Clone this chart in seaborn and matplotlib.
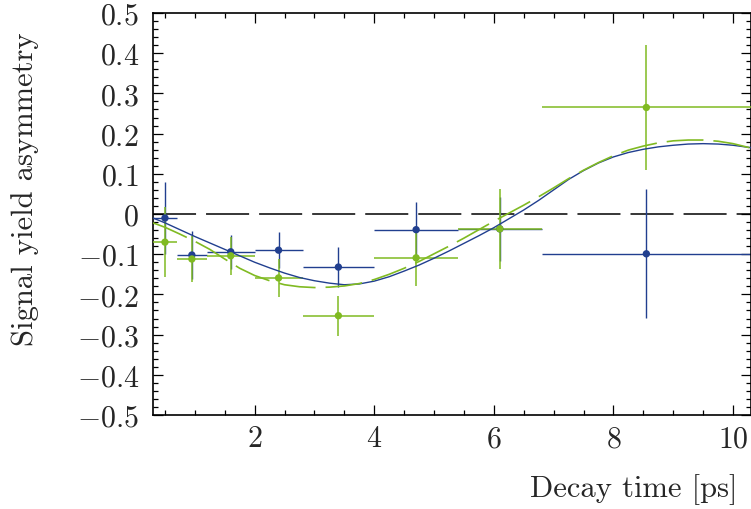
import numpy as np
import pandas as pd
import matplotlib
matplotlib.use("Agg")
import matplotlib.pyplot as plt
import seaborn as sns

# ---------------- data ----------------
bin_centers = [0.5, 0.95, 1.6, 2.4, 3.4, 4.7, 6.1, 8.55]
bin_lo = [0.3, 0.7, 1.2, 2.0, 2.8, 4.0, 5.4, 6.8]
bin_hi = [0.7, 1.2, 2.0, 2.8, 4.0, 5.4, 6.8, 10.3]

blue_y = [-0.010, -0.102, -0.094, -0.090, -0.132, -0.039, -0.037, -0.099]
blue_err = [0.090, 0.060, 0.042, 0.045, 0.050, 0.070, 0.080, 0.160]

green_y = [-0.070, -0.112, -0.104, -0.159, -0.253, -0.109, -0.037, 0.265]
green_err = [0.087, 0.058, 0.047, 0.047, 0.050, 0.070, 0.100, 0.155]

curve_t = [0.3, 0.5, 0.75, 1.0, 1.25, 1.5, 1.75, 2.0, 2.25, 2.5, 2.75, 3.0,
           3.25, 3.5, 3.75, 4.0, 4.25, 4.5, 4.75, 5.0, 5.25, 5.5, 5.75, 6.0,
           6.25, 6.5, 6.75, 7.0, 7.25, 7.5, 7.75, 8.0, 8.25, 8.5, 8.75, 9.0,
           9.25, 9.5, 9.75, 10.0, 10.3]
blue_curve = [-0.010, -0.022, -0.039, -0.056, -0.072, -0.088, -0.104, -0.120,
              -0.134, -0.147, -0.158, -0.166, -0.172, -0.176, -0.174, -0.167,
              -0.156, -0.142, -0.127, -0.110, -0.092, -0.073, -0.054, -0.034,
              -0.012, 0.010, 0.034, 0.060, 0.086, 0.108, 0.127, 0.142,
              0.153, 0.161, 0.167, 0.171, 0.174, 0.175, 0.174, 0.171, 0.165]
green_curve = [-0.022, -0.033, -0.050, -0.068, -0.088, -0.112, -0.135, -0.153,
               -0.166, -0.176, -0.181, -0.183, -0.182, -0.179, -0.173, -0.163,
               -0.150, -0.135, -0.118, -0.099, -0.080, -0.060, -0.039, -0.018,
               0.002, 0.022, 0.043, 0.065, 0.088, 0.109, 0.128, 0.145,
               0.159, 0.169, 0.177, 0.182, 0.184, 0.184, 0.181, 0.175, 0.164]

y_ticks = [-0.5, -0.4, -0.3, -0.2, -0.1, 0.0, 0.1, 0.2, 0.3, 0.4, 0.5]
y_tick_labels = [r"$-0.5$", r"$-0.4$", r"$-0.3$", r"$-0.2$", r"$-0.1$", r"$0$",
                 r"$0.1$", r"$0.2$", r"$0.3$", r"$0.4$", r"$0.5$"]
x_ticks = [2, 4, 6, 8, 10]
x_tick_labels = [r"$2$", r"$4$", r"$6$", r"$8$", r"$10$"]

# ---------------- style ----------------
sns.set_theme(style="ticks")
plt.rcParams["font.family"] = ["cmr10", "DejaVu Serif"]
plt.rcParams["mathtext.fontset"] = "cm"
plt.rcParams["lines.scale_dashes"] = False
plt.rcParams["axes.linewidth"] = 1.2

BLUE = "#213f8f"
GREEN = "#80ba22"

fig = plt.figure(figsize=(7.51, 5.10), dpi=100)
ax = fig.add_axes([153 / 751, 94 / 510, 1 - 153 / 751, 402 / 510])

xc = np.array(bin_centers)
xerr = np.array([xc - np.array(bin_lo), np.array(bin_hi) - xc])

# zero line
ax.axhline(0, color="black", lw=1.1, dashes=(31, 7.2), zorder=1)

# error bars
ax.errorbar(xc, blue_y, yerr=blue_err, xerr=xerr, fmt="none", ecolor=BLUE,
            elinewidth=1.0, capsize=0, zorder=2)
ax.errorbar(xc, green_y, yerr=green_err, xerr=xerr, fmt="none", ecolor=GREEN,
            elinewidth=1.1, capsize=0, zorder=3)

# fit curves
cdf = pd.DataFrame({"t": curve_t, "blue": blue_curve, "green": green_curve})
sns.lineplot(data=cdf, x="t", y="blue", ax=ax, color=BLUE, lw=1.0,
             estimator=None, sort=False, zorder=4)
sns.lineplot(data=cdf, x="t", y="green", ax=ax, color=GREEN, lw=1.2,
             estimator=None, sort=False, zorder=5)
ax.lines[-1].set_dashes((26.5, 7.2))

# markers
pdf = pd.DataFrame({"x": bin_centers, "blue": blue_y, "green": green_y})
sns.scatterplot(data=pdf, x="x", y="blue", ax=ax, color=BLUE, s=28,
                edgecolor="none", zorder=6)
sns.scatterplot(data=pdf, x="x", y="green", ax=ax, color=GREEN, s=28,
                edgecolor="none", zorder=7)

ax.set_xlim(0.3, 10.3)
ax.set_ylim(-0.5, 0.5)

ax.set_xticks(x_ticks)
ax.set_xticklabels(x_tick_labels)
ax.set_xticks(np.arange(0.5, 10.3, 0.5), minor=True)
ax.set_yticks(y_ticks)
ax.set_yticklabels(y_tick_labels)
ax.set_yticks(np.arange(-0.5, 0.501, 0.02), minor=True)

ax.tick_params(which="both", direction="in", top=True, right=True,
               color="black", width=0.9, labelsize=21.5)
ax.tick_params(which="major", length=7.5)
ax.tick_params(which="minor", length=3.8)
ax.tick_params(axis="y", pad=10)
ax.tick_params(axis="x", pad=7)

for s in ax.spines.values():
    s.set_color("black")
    s.set_linewidth(1.2)

ax.set_xlabel("Decay time [ps]", fontsize=22, ha="right")
ax.xaxis.set_label_coords((738 - 153) / 598, -0.145)
ax.set_ylabel("Signal yield asymmetry", fontsize=22, ha="right")
ax.yaxis.set_label_coords(-0.19, 0.955)

fig.savefig("out.png", dpi=100)
